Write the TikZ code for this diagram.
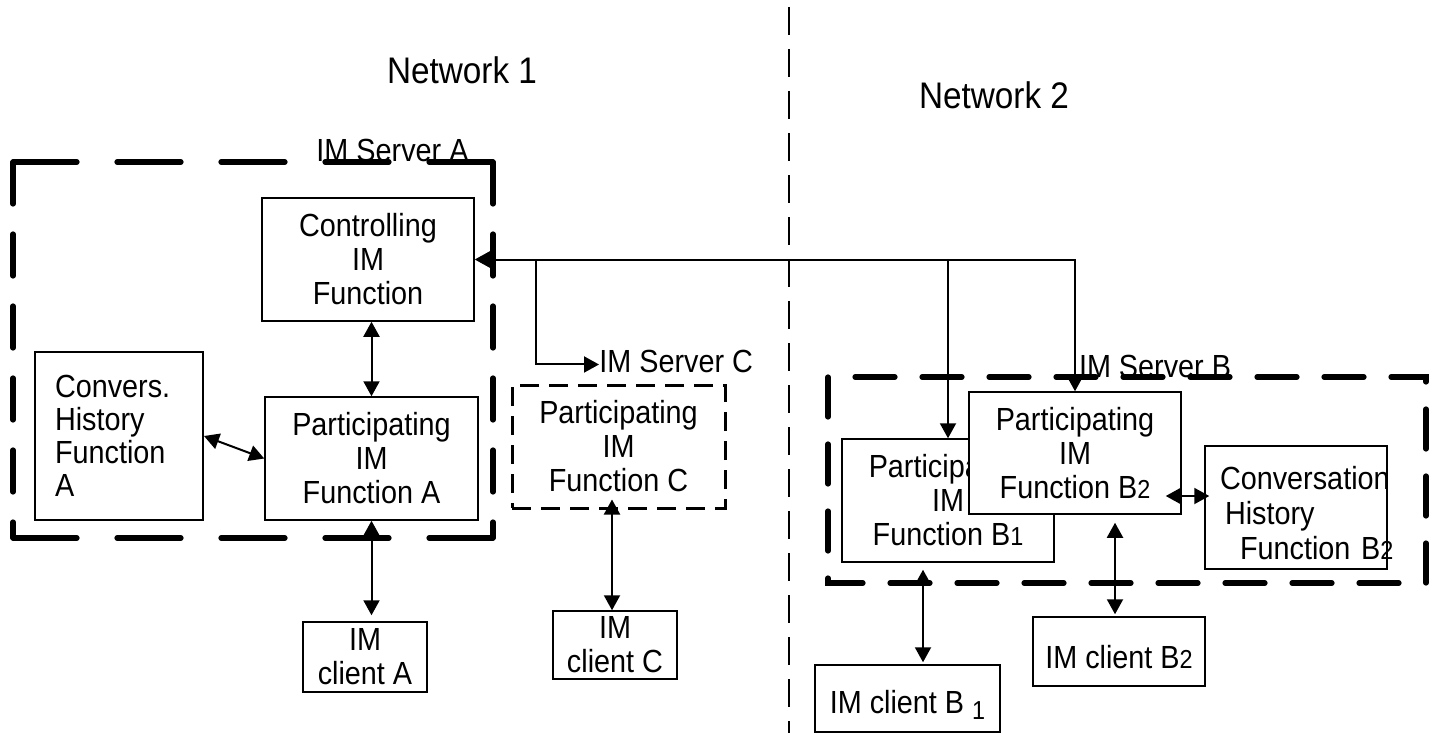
\documentclass[tikz,border=0pt]{standalone}
\usepackage{fontspec}
\setmainfont{Liberation Sans}[FakeStretch=0.9]
\usepackage{tikz}
\usetikzlibrary{arrows.meta}

\tikzset{
  box/.style={draw, line width=0.75pt, align=center, inner sep=2pt},
  lowbox/.style={box, execute at begin node={\rule{0pt}{17.5pt}}},
  arr/.style={->, line width=1pt},
  dbl/.style={<->, line width=1pt},
  srvline/.style={line width=2.6pt, line cap=round},
  netlabel/.style={font=\fontsize{18.5}{22}\selectfont},
}
\newcommand{\subnum}[1]{{\fontsize{13}{13}\selectfont #1}}

\begin{document}
\begin{tikzpicture}[x=0.5pt, y=-0.5pt, node font=\fontsize{16}{17}\selectfont,
  >={Triangle[length=7.5pt,width=8pt]}]
\useasboundingbox (0,0) rectangle (1434,733);

% split between the two networks
\draw[line width=1.35pt, dash pattern=on 14pt off 7pt] (789,7) -- (789,733);
\node[netlabel] (net1) at (462,70) {Network 1};
\node[netlabel] (net2) at (994,95) {Network 2};

% server frames
\draw[srvline, dash pattern=on 32pt off 20pt] (13,162) -- (493,162) (13,538) -- (493,538);
\draw[srvline, dash pattern=on 21pt off 15pt] (13,162) -- (13,538) (493,162) -- (493,538);
\draw[srvline, dash pattern=on 20pt off 13.5pt] (828,377) rectangle (1426,583);

% Network 1
\node[lowbox, minimum width=106pt, minimum height=61.5pt] (ctrl) at (368,259.5) {Controlling\\IM\\Function};
\node[lowbox, minimum width=106.5pt, minimum height=61.5pt] (partA) at (371.5,458.5) {Participating\\IM\\Function A};
\node[box, line width=1pt, minimum width=84pt, minimum height=84pt, text width=64pt, align=left,
  font=\fontsize{16}{16.5}\selectfont] (histA) at (119,436) {Convers.\\History\\Function\\A};
\node[box, minimum width=62pt, minimum height=35pt] (clientA) at (365,657) {IM\\client A};
\node[lowbox, line width=1.5pt, dash pattern=on 9.5pt off 5pt, minimum width=106.5pt, minimum height=61.5pt] (fnC) at (618.5,446.5) {Participating\\IM\\Function C};
\node[lowbox, minimum width=62pt, minimum height=34pt] (clientC) at (615,645) {IM\\client C};
\node[anchor=base, inner sep=0pt] (srvA) at (392.5,162) {IM Server A};
\node[anchor=base west, inner sep=0pt] (srvC) at (599,372) {IM Server C};

% Network 2
\node[lowbox, fill=white, minimum width=106pt, minimum height=61.5pt] (B1) at (948,500.5) {Participating\\IM\\Function B\subnum{1}};
\node[lowbox, fill=white, minimum width=106pt, minimum height=61pt] (B2) at (1075,453) {Participating\\IM\\Function B\subnum{2}};
\node[lowbox, minimum width=91pt, minimum height=61.5pt, text width=76pt, align=left,
  font=\fontsize{16}{17.5}\selectfont] (convB) at (1296,507.5) {\mbox{Conversation}\\\hspace*{2.5pt}History\\\mbox{\hspace*{10pt}Function B\subnum{2}}};
\node[lowbox, minimum width=92.5pt, minimum height=33.5pt] (clientB1) at (907.5,698.5) {IM client B \raisebox{-3pt}{\subnum{1}}};
\node[lowbox, minimum width=86pt, minimum height=34.5pt] (clientB2) at (1119,651.5) {IM client B\subnum{2}};
\node[anchor=base, inner sep=0pt] (srvB) at (1155,377) {IM Server B};

% links
\coordinate (tapC) at (536,259.5);
\draw[dbl] (ctrl.east) -| (B2.north);
\draw[arr] (ctrl.east -| B1.north) -- (B1.north);
\draw[arr] (tapC) |- ([yshift=-1.75pt]srvC.west);
\draw[dbl] (partA.north |- ctrl.south) -- (partA.north);
\draw[dbl] (histA.east) -- (partA.west);
\draw[dbl, shorten >=3pt] (partA.south) -- (partA.south |- clientA.north);
\draw[dbl, shorten <=-5pt] ([xshift=-1.5pt]clientC.north |- fnC.south) -- ([xshift=-1.5pt]clientC.north);
\draw[dbl, shorten <=3.5pt, shorten >=1pt] ([xshift=-12.5pt]B1.south) -- ([xshift=-12.5pt]B1.south |- clientB1.north);
\draw[dbl, shorten <=4pt, shorten >=1pt] ([xshift=20pt]B2.south) -- ([xshift=20pt]B2.south |- clientB2.north);
\draw[dbl, shorten <=-8pt, shorten >=-2.5pt] ([yshift=5.75pt]convB.west -| B2.east) -- ([yshift=5.75pt]convB.west);
\end{tikzpicture}
\end{document}
